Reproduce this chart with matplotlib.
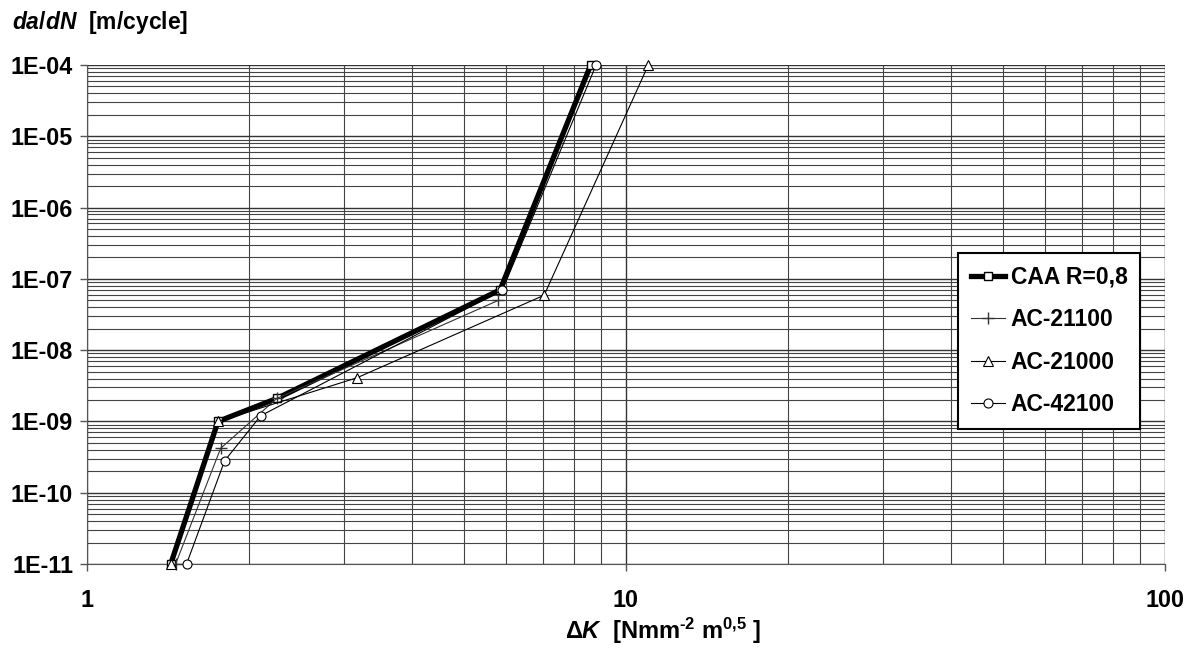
import matplotlib
matplotlib.use("Agg")
import matplotlib.pyplot as plt
import matplotlib.ticker as ticker
import numpy as np

plt.rcParams['font.family'] = ['Liberation Sans', 'DejaVu Sans']
plt.rcParams['font.weight'] = 'bold'
plt.rcParams['mathtext.fontset'] = 'custom'
plt.rcParams['mathtext.rm'] = 'Liberation Sans:bold'
plt.rcParams['mathtext.it'] = 'Liberation Sans:italic:bold'
plt.rcParams['mathtext.bf'] = 'Liberation Sans:bold'
plt.rcParams['axes.unicode_minus'] = False

# dK [Nmm^-2 m^0.5] vs da/dN [m/cycle]
caa_k = [1.43, 1.75, 2.25, 5.84, 8.6]
caa_v = [1e-11, 1e-9, 2.1e-9, 7e-8, 1e-4]

ac21100_k = [1.46, 1.77, 2.25, 5.8]
ac21100_v = [1e-11, 4.2e-10, 2.1e-9, 5e-8]

ac21000_k = [1.43, 1.75, 3.17, 7.05, 11.0]
ac21000_v = [1e-11, 1e-9, 4.1e-9, 5.9e-8, 1e-4]

ac42100_k = [1.53, 1.80, 2.10, 5.9, 8.8]
ac42100_v = [1e-11, 2.8e-10, 1.2e-9, 7e-8, 1e-4]

fig = plt.figure(figsize=(11.99, 6.51), dpi=100)
ax = fig.add_axes([87/1199, 1-564/651, (1165-87)/1199, (564-65)/651])

ax.plot(caa_k, caa_v, color='black', lw=3.8, marker='s', ms=6,
        mfc='white', mec='black', mew=1.0, label='CAA R=0,8', zorder=3, clip_on=False)
ax.plot(ac21100_k, ac21100_v, color='#333333', lw=0.8, marker='+', ms=8,
        mec='#333333', mew=1.0, label='AC-21100', zorder=4, clip_on=False)
ax.plot(ac21000_k, ac21000_v, color='black', lw=0.8, marker='^', ms=6.5,
        mfc='white', mec='black', mew=0.8, label='AC-21000', zorder=5, clip_on=False)
ax.plot(ac42100_k, ac42100_v, color='black', lw=0.8, marker='o', ms=6.5,
        mfc='white', mec='black', mew=0.8, label='AC-42100', zorder=6, clip_on=False)

ax.set_xscale('log')
ax.set_yscale('log')
ax.set_xlim(1, 100)
ax.set_ylim(1e-11, 1e-4)

ax.xaxis.set_major_locator(ticker.FixedLocator([1, 10, 100]))
ax.xaxis.set_major_formatter(ticker.FixedFormatter(['1', '10', '100']))
ax.xaxis.set_minor_locator(ticker.LogLocator(base=10, subs=np.arange(2, 10)))
ax.xaxis.set_minor_formatter(ticker.NullFormatter())

yt = [10.0**e for e in range(-11, -3)]
ax.yaxis.set_major_locator(ticker.FixedLocator(yt))
ax.yaxis.set_major_formatter(ticker.FixedFormatter(['1E-%02d' % (-e) for e in range(-11, -3)]))
ax.yaxis.set_minor_locator(ticker.LogLocator(base=10, subs=np.arange(2, 10)))
ax.yaxis.set_minor_formatter(ticker.NullFormatter())

ax.grid(True, which='major', color='#333333', lw=1.0)
ax.grid(True, which='minor', color='#444444', lw=0.8)
ax.set_axisbelow(True)

ax.tick_params(axis='both', which='major', labelsize=16.8, length=5, width=1, color='#555555')
ax.tick_params(axis='x', which='major', pad=13)
ax.tick_params(axis='y', which='major', pad=5)
ax.tick_params(which='minor', length=0)

for s in ['top', 'right']:
    ax.spines[s].set_visible(False)
ax.spines['left'].set_color('#555555')
ax.spines['bottom'].set_color('#555555')

leg = ax.legend(loc='upper left', bbox_to_anchor=(0.808, 0.623), fontsize=16.5,
                frameon=True, fancybox=False, handlelength=1.5, handletextpad=0.25,
                labelspacing=0.85, borderpad=0.55, borderaxespad=0)
leg.get_frame().set_edgecolor('black')
leg.get_frame().set_linewidth(1.5)
leg.get_frame().set_alpha(1)
leg.set_zorder(10)

fig.text(12/1199, 1-22/651, r'$\mathit{da/dN}$  [m/cycle]', fontsize=16.5,
         fontweight='bold', ha='left', va='center')
fig.text(663/1199, 1-631/651, r'Δ$\mathit{K}$  [Nmm$^{\text{-}2}$ m$^{0{,}5}$ ]', fontsize=17,
         fontweight='bold', ha='center', va='center')

fig.savefig('out.png', dpi=100)
